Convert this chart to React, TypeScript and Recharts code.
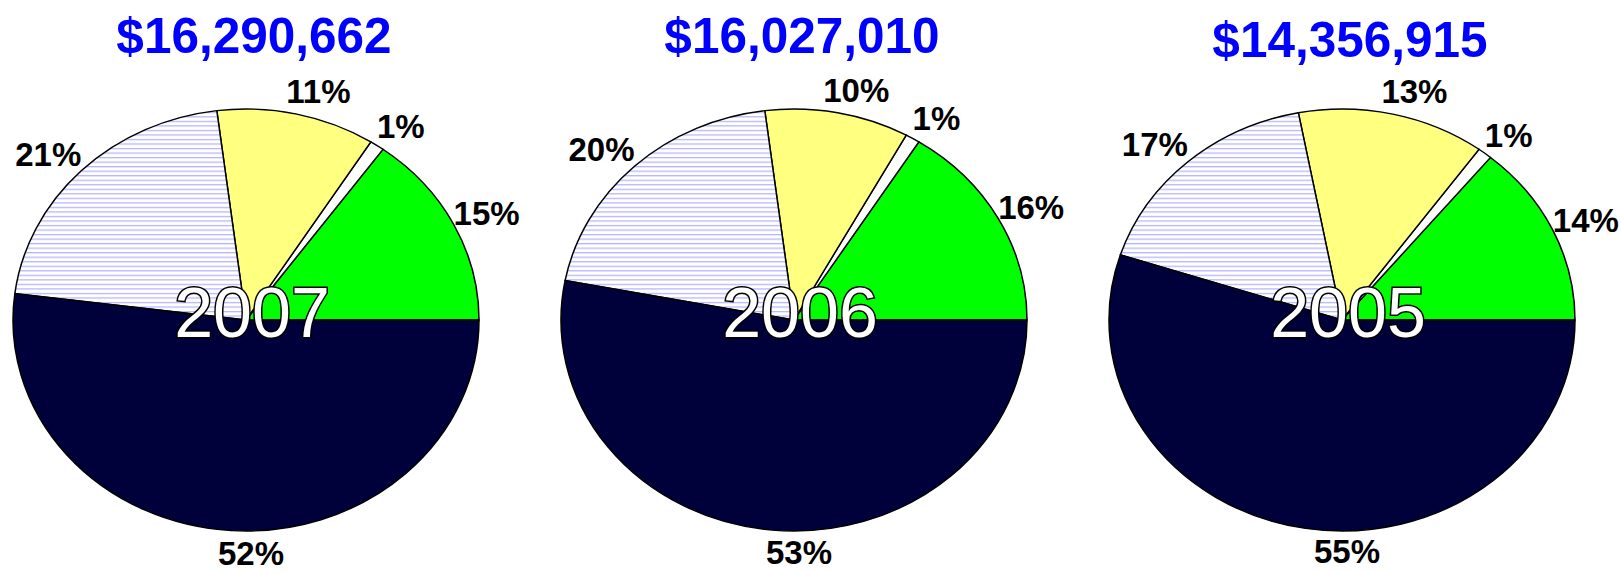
import React from 'react';
import { PieChart, Pie, Cell } from 'recharts';

// revenue mix by category, in percent of the year's total
const categories = ['Category A', 'Category B', 'Category C', 'Category D', 'Category E'];
const years = ['2007', '2006', '2005'];
const totals = ['$16,290,662', '$16,027,010', '$14,356,915'];
const share2007 = [15, 1, 11, 21, 52];
const share2006 = [16, 1, 10, 20, 53];
const share2005 = [14, 1, 13, 17, 55];

const shares = [share2007, share2006, share2005];

const FONT = '"Liberation Sans", Arial, Helvetica, sans-serif';
const RX = 233;
const RY = 211;
const SQUASH = RY / RX;
const CX = 246;
const CY = 320;
const LABEL_SIZE = 33;

// label sits just outside the (squashed) rim; its box is pushed sideways
// by up to half its width, like Excel's "outside end" placement.
// A label hanging straight under the pie is centred below it.
const renderPct = (props: any) => {
  const { cx, cy, midAngle, outerRadius, value } = props;
  const rad = (-midAngle * Math.PI) / 180;
  const cos = Math.cos(rad);
  const sin = Math.sin(rad);
  const text = `${value}%`;
  const w = LABEL_SIZE * (0.556 * (text.length - 1) + 0.889);
  const side = Math.max(-1, Math.min(1, cos * 3));
  const underneath = sin > 0.95;
  const x = underneath ? cx + 5 : cx + outerRadius * cos + (side * w) / 2;
  const y = cy + (outerRadius * SQUASH + 8) * sin + sin * 15;
  return (
    <text
      x={x}
      y={y}
      textAnchor="middle"
      dominantBaseline="central"
      fill="#000"
      fontFamily={FONT}
      fontWeight="bold"
      fontSize={LABEL_SIZE}
    >
      {text}
    </text>
  );
};

const YearPie = ({ idx }: { idx: number }) => {
  const hatchId = `hatch-${idx}`;
  const colors = ['#00ff00', '#ffffff', '#ffff80', `url(#${hatchId})`, '#00003a'];
  const data = categories.map((name, i) => ({ name, value: shares[idx][i] }));

  return (
    <div className="pie-ellipse" style={{ position: 'absolute', left: idx * 548, top: 0, width: 525, height: 573 }}>
      <PieChart width={525} height={573} margin={{ top: 0, right: 0, bottom: 0, left: 0 }}>
        <defs>
          <pattern id={hatchId} width={8} height={5} patternUnits="userSpaceOnUse">
            <rect width={8} height={5} fill="#ffffff" />
            <rect y={0} width={8} height={1.4} fill="#b4b4ff" />
          </pattern>
        </defs>
        <text
          x={254}
          y={idx === 2 ? 57 : 53}
          textAnchor="middle"
          fill="#0000ff"
          fontFamily={FONT}
          fontWeight="bold"
          fontSize={49.5}
        >
          {totals[idx]}
        </text>
        <Pie
          data={data}
          dataKey="value"
          nameKey="name"
          cx={CX}
          cy={CY}
          outerRadius={RX}
          startAngle={0}
          endAngle={360}
          stroke="#000"
          strokeWidth={1.5}
          label={renderPct}
          labelLine={false}
          isAnimationActive={false}
        >
          {data.map((entry, i) => (
            <Cell key={`cell-${i}`} fill={colors[i]} />
          ))}
        </Pie>
      </PieChart>
      <svg
        width={525}
        height={573}
        style={{ position: 'absolute', left: 0, top: 0, pointerEvents: 'none' }}
      >
        <text
          x={252}
          y={337}
          textAnchor="middle"
          fill="#ffffff"
          stroke="#000"
          strokeWidth={3}
          paintOrder="stroke"
          fontFamily={FONT}
          fontSize={70}
        >
          {years[idx]}
        </text>
      </svg>
    </div>
  );
};

export default function App() {
  return (
    <div
      style={{
        position: 'absolute',
        left: 0,
        top: 0,
        width: 1621,
        height: 573,
        overflow: 'hidden',
        background: '#ffffff',
      }}
    >
      <style>{`.pie-ellipse path.recharts-sector { transform: scaleY(${SQUASH}); transform-origin: ${CX}px ${CY}px; }`}</style>
      {years.map((y, i) => (
        <YearPie key={y} idx={i} />
      ))}
    </div>
  );
}
